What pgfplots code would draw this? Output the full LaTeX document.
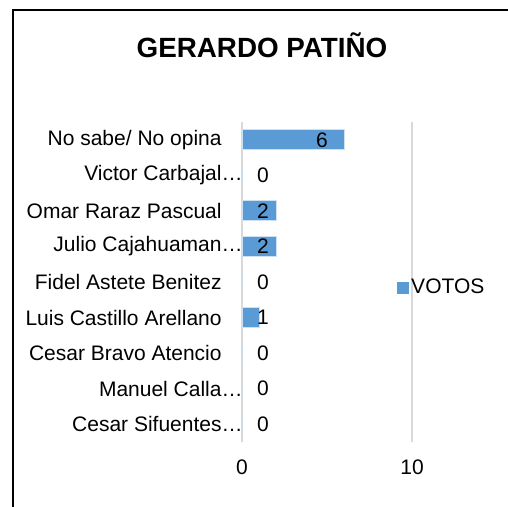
\documentclass[border=0pt]{standalone}
\usepackage{pgfplots}
\pgfplotsset{compat=1.18}
\usepackage{fontspec}
\setmainfont{Liberation Sans}
\definecolor{barblue}{HTML}{5B9BD5}
\definecolor{gridgray}{HTML}{D9D9D9}
\begin{document}
\begin{tikzpicture}
\useasboundingbox (0pt,0pt) rectangle (253.5pt,253.5pt);
% outer chart frame (only left and top edges visible in the crop)
\draw[line width=1.4pt, black] (6.5pt,-2pt) -- (6.5pt,248.5pt) -- (256pt,248.5pt);
\node[font=\bfseries\fontsize{13.9pt}{16pt}\selectfont] at (131pt,231pt) {GERARDO PATIÑO};
\begin{axis}[
  at={(121pt,32.5pt)}, anchor=south west,
  scale only axis, width=85pt, height=160pt,
  xmin=0, xmax=10, ymin=-0.5, ymax=8.5,
  xtick={0,10}, ytick={0,1,2,3,4,5,6,7,8},
  yticklabels={Cesar Sifuentes\rlap{…}, Manuel Calla\rlap{…}, Cesar Bravo Atencio, Luis Castillo Arellano, Fidel Astete Benitez, Julio Cajahuaman\rlap{…}, Omar Raraz Pascual, Victor Carbajal\rlap{…}, No sabe/ No opina},
  xmajorgrids, grid style={draw=gridgray, line width=0.7pt},
  axis line style={draw=none}, major tick length=0pt,
  /pgf/number format/assume math mode=true,
  ticklabel style={font=\fontsize{10.5pt}{12pt}\selectfont},
  yticklabel style={anchor=east, inner sep=0pt, xshift=-10pt},
  xticklabel style={anchor=center, inner sep=0pt, yshift=-12.5pt},
  legend style={at={(0.912,0.481)}, anchor=west, draw=none, fill=none, inner sep=0pt,
    font=\fontsize{10.5pt}{12pt}\selectfont, nodes={inner sep=1pt}},
  clip=false,
]
\addplot[xbar, bar width=10pt, fill=barblue, draw=white!70!barblue, line width=0.4pt,
  legend image code/.code={\fill[barblue] (0pt,-2.75pt) rectangle (5.5pt,2.75pt);}]
  table[x=v, y=y] {
  y v
  0 0
  1 0
  2 0
  3 1
  4 0
  5 2
  6 2
  7 0
  8 6
  };
\addlegendentry{VOTOS}
\addplot[draw=none, mark=none, forget plot, point meta=explicit,
  nodes near coords={\pgfmathprintnumber{\pgfplotspointmeta}},
  every node near coord/.append style={anchor=center, inner sep=0pt,
    font=\fontsize{10.5pt}{12pt}\selectfont}]
  table[x=lx, y=y, meta=v] {
  y lx v
  0 1.24 0
  1 1.24 0
  2 1.24 0
  3 1.24 1
  4 1.24 0
  5 1.24 2
  6 1.24 2
  7 1.24 0
  8 4.7 6
  };
\end{axis}
\end{tikzpicture}
\end{document}
